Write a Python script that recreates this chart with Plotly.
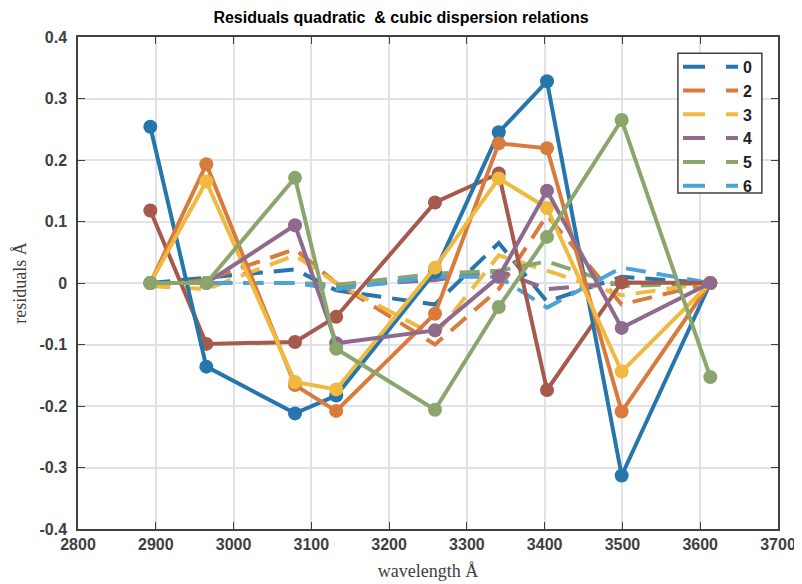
import plotly.graph_objects as go

wavelength = [2893, 2965, 3079, 3132, 3259, 3341, 3403, 3499, 3613]

# solid lines with markers
solid_0 = [0.254, -0.136, -0.212, -0.183, 0.018, 0.245, 0.328, -0.313, 0.0]
solid_2 = [0.0, 0.193, -0.166, -0.208, -0.050, 0.227, 0.219, -0.209, 0.0]
solid_3 = [0.0, 0.165, -0.161, -0.173, 0.025, 0.170, 0.122, -0.144, 0.0]
solid_4 = [0.0, 0.0, 0.094, -0.098, -0.077, 0.010, 0.150, -0.073, 0.0]
solid_5 = [0.0, 0.0, 0.171, -0.107, -0.206, -0.039, 0.075, 0.265, -0.153]
solid_7 = [0.118, -0.099, -0.096, -0.055, 0.131, 0.178, -0.174, 0.001, 0.0]

# dashed lines (legend entries)
dash_0 = [0.0, 0.008, 0.022, -0.012, -0.035, 0.065, -0.030, 0.010, 0.0]
dash_2 = [-0.005, 0.005, 0.055, 0.000, -0.100, -0.010, 0.110, -0.035, 0.0]
dash_3 = [-0.005, -0.010, 0.045, 0.000, -0.085, 0.045, 0.020, -0.020, 0.0]
dash_4 = [0.0, 0.0, 0.000, -0.005, 0.005, 0.020, -0.010, 0.000, 0.0]
dash_5 = [0.0, 0.0, 0.000, -0.003, 0.015, 0.020, 0.035, -0.005, 0.0]
dash_6 = [0.0, 0.0, 0.000, -0.010, 0.010, 0.010, -0.040, 0.025, 0.0]

legend_names = ["0", "2", "3", "4", "5", "6"]
y_ticks = [0.4, 0.3, 0.2, 0.1, 0, -0.1, -0.2, -0.3, -0.4]
y_tick_text = ["0.4", "0.3", "0.2", "0.1", "0", "-0.1", "-0.2", "-0.3", "-0.4"]
x_ticks = [2800, 2900, 3000, 3100, 3200, 3300, 3400, 3500, 3600, 3700]

BLUE = "#2676AE"
ORANGE = "#D97B3C"
YELLOW = "#F0B940"
PURPLE = "#8E6A8C"
GREEN = "#8BA66C"
LIGHTBLUE = "#4BA3D6"
BROWN = "#A65A4C"

fig = go.Figure()

dashed = [dash_0, dash_2, dash_3, dash_4, dash_5, dash_6]
dcolors = [BLUE, ORANGE, YELLOW, PURPLE, GREEN, LIGHTBLUE]
for name, vals, c in zip(legend_names, dashed, dcolors):
    fig.add_trace(go.Scatter(
        x=wavelength, y=vals, mode="lines", name=name, showlegend=False,
        line=dict(color=c, width=4, dash="20px,11px"),
    ))

solids = [solid_7, solid_0, solid_2, solid_3, solid_4, solid_5]
scolors = [BROWN, BLUE, ORANGE, YELLOW, PURPLE, GREEN]
for vals, c in zip(solids, scolors):
    fig.add_trace(go.Scatter(
        x=wavelength, y=vals, mode="lines+markers", showlegend=False,
        line=dict(color=c, width=4),
        marker=dict(color=c, size=14, line=dict(width=0)),
    ))

# legend-only entries (sample drawn as "—  -" like the reference)
for name, c in zip(legend_names, dcolors):
    fig.add_trace(go.Scatter(
        x=[None], y=[None], mode="lines", name=name,
        line=dict(color=c, width=4, dash="22px,21px"),
    ))

axis_color = "#404040"
tick_font = dict(family="Liberation Sans, Arial", size=16, color=axis_color, weight="bold")
fig.update_layout(
    width=794, height=576,
    margin=dict(l=70, r=24, t=29, b=55, autoexpand=False),
    paper_bgcolor="white", plot_bgcolor="white",
    title=dict(
        text="Residuals quadratic \u00a0& cubic dispersion relations",
        font=dict(family="Liberation Sans, Arial", size=16, color="black", weight="bold"),
        x=0.495, xref="container", xanchor="center",
        y=0.983, yref="container", yanchor="middle", automargin=False,
    ),
    xaxis=dict(
        range=[2800, 3700], tickvals=x_ticks, automargin=False,
        showline=True, linecolor=axis_color, linewidth=1.5, mirror="ticks",
        ticks="inside", ticklen=7, tickcolor=axis_color,
        showgrid=True, gridcolor="#DFE2E6", gridwidth=1.5,
        zeroline=False,
        tickfont=tick_font,
        title=dict(text="wavelength Å", font=dict(family="Liberation Serif, Times New Roman", size=18, color=axis_color), standoff=12),
    ),
    yaxis=dict(
        range=[-0.4, 0.4], tickvals=y_ticks, ticktext=y_tick_text, automargin=False,
        showline=True, linecolor=axis_color, linewidth=1.5, mirror="ticks",
        ticks="inside", ticklen=7, tickcolor=axis_color,
        showgrid=True, gridcolor="#DFE2E6", gridwidth=1.5,
        zeroline=False,
        tickfont=tick_font,
        ticklabelstandoff=6,
        title=dict(text="residuals Å", font=dict(family="Liberation Serif, Times New Roman", size=18, color=axis_color), standoff=8),
    ),
    legend=dict(
        x=0.97, y=0.974, xanchor="right", yanchor="top",
        bgcolor="rgba(0,0,0,0)", borderwidth=0,
        font=dict(family="Liberation Sans, Arial", size=16, color="#222222", weight="bold"),
        itemwidth=55, tracegroupgap=0,
    ),
    shapes=[dict(
        type="rect", xref="paper", yref="paper",
        x0=0.857, x1=0.977, y0=0.683, y1=0.967,
        fillcolor="white", line=dict(color=axis_color, width=1.5), layer="above",
    )],
)

fig.write_html("out.html")
